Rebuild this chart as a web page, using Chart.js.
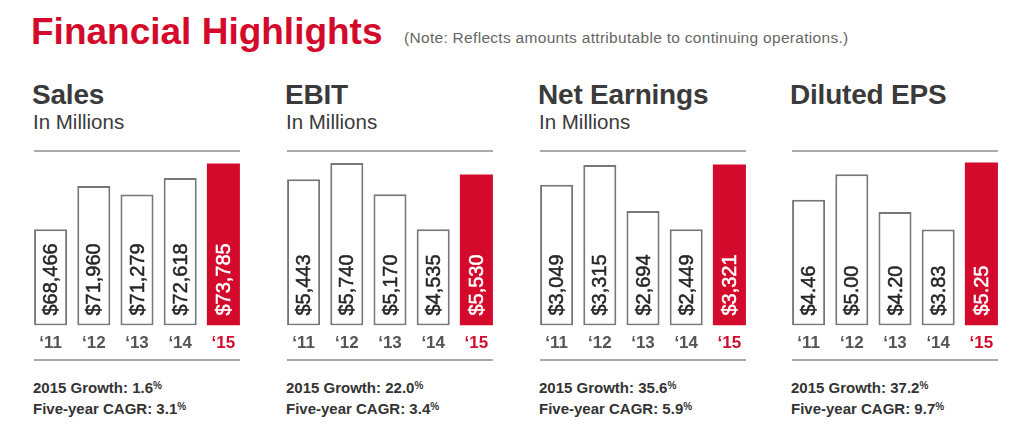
<!DOCTYPE html>
<html>
<head>
<meta charset="utf-8">
<script src="https://cdn.jsdelivr.net/npm/chart.js@4"></script>
<style>
  body { margin: 0; background: #fff; font-family: "Liberation Sans", Arial, sans-serif; }
  #page { position: relative; width: 1009px; height: 448px; overflow: hidden; }
  .abs { position: absolute; white-space: nowrap; line-height: 1; }
  .main { left: 31px; top: 13px; font-size: 37px; font-weight: bold; color: #d40a2d; }
  .note { left: 404px; top: 29.5px; font-size: 15.5px; letter-spacing: 0.3px; color: #666; }
  .ttl { top: 81.3px; font-size: 28px; font-weight: bold; color: #3a3a3a; letter-spacing: -0.2px; }
  .sub { top: 112px; font-size: 20.5px; color: #3a3a3a; }
  .rule { position: absolute; width: 206px; height: 0; border-top: 2px solid #aaa; }
  .grow { top: 376.3px; font-size: 15px; line-height: 19px; font-weight: bold; color: #333; }
  .grow span { font-size: 10px; vertical-align: 4px; }
  canvas { position: absolute; top: 155px; }
</style>
</head>
<body>
<div id="page">
  <div class="abs main">Financial Highlights</div>
  <div class="abs note">(Note: Reflects amounts attributable to continuing operations.)</div>
</div>
<script>
var years = ["\u201811", "\u201812", "\u201813", "\u201814", "\u201815"];
var sales = [68466, 71960, 71279, 72618, 73785];
var ebit = [5443, 5740, 5170, 4535, 5530];
var netEarnings = [3049, 3315, 2694, 2449, 3321];
var eps = [4.46, 5.00, 4.20, 3.83, 5.25];

var titles = ["Sales", "EBIT", "Net Earnings", "Diluted EPS"];
var subtitles = ["In Millions", "In Millions", "In Millions", ""];
var growth = ["1.6", "22.0", "35.6", "37.2"];
var cagr = ["3.1", "3.4", "5.9", "9.7"];

// axis ranges (bars do not start at zero in the original)
var axisMin = [60666, 2782, 1150, 1.79];
var axisMax = [74476, 5886, 3450, 5.41];

var RED = "#d40a2d";
var FONT = '"Liberation Sans", Arial, sans-serif';
var lefts = [34, 287, 540, 792];
var series = [sales, ebit, netEarnings, eps];

function money(v) { return "$" + v.toLocaleString("en-US"); }
function money2(v) { return "$" + v.toFixed(2); }
var formats = [money, money, money, money2];

var valueLabels = {
  id: "valueLabels",
  afterDatasetsDraw: function (chart, args, opts) {
    var ctx = chart.ctx;
    var vals = chart.data.datasets[0].data;
    var bottom = chart.chartArea.bottom;
    chart.getDatasetMeta(0).data.forEach(function (bar, i) {
      var col = i === 4 ? "#fff" : "#262626";
      var txt = opts.fmt(vals[i]);
      ctx.save();
      ctx.translate(bar.x, bottom - 10);
      ctx.rotate(-Math.PI / 2);
      ctx.font = "20px " + FONT;
      ctx.fillStyle = col;
      ctx.strokeStyle = col;
      ctx.lineWidth = 0.5;
      ctx.textAlign = "left";
      ctx.textBaseline = "middle";
      ctx.fillText(txt, 0, 1);
      ctx.strokeText(txt, 0, 1);
      ctx.restore();
    });
  }
};

var page = document.getElementById("page");

function addDiv(cls, left, html) {
  var d = document.createElement("div");
  d.className = cls;
  d.style.left = left + "px";
  d.innerHTML = html;
  page.appendChild(d);
  return d;
}

for (var p = 0; p < 4; p++) {
  var L = lefts[p];
  addDiv("abs ttl", L - 2, titles[p]);
  if (subtitles[p]) addDiv("abs sub", L - 1, subtitles[p]);
  var r1 = addDiv("rule", L, ""); r1.style.top = "150px";
  var r2 = addDiv("rule", L, ""); r2.style.top = "359px";
  addDiv("abs grow", L - 1, "2015 Growth: " + growth[p] + "<span>%</span><br>Five-year CAGR: " + cagr[p] + "<span>%</span>");

  var cv = document.createElement("canvas");
  cv.width = 216; cv.height = 207;
  cv.style.left = (L - 5) + "px";
  page.appendChild(cv);

  new Chart(cv, {
    type: "bar",
    data: {
      labels: years,
      datasets: [{
        data: series[p],
        base: axisMin[p],
        backgroundColor: years.map(function (y, i) { return i === 4 ? RED : "#fff"; }),
        borderColor: "#777",
        borderWidth: years.map(function (y, i) { return i === 4 ? 0 : 2; }),
        borderSkipped: false,
        categoryPercentage: 1,
        barPercentage: 0.765
      }]
    },
    options: {
      responsive: false,
      animation: false,
      events: [],
      layout: { padding: 0 },
      plugins: {
        legend: { display: false },
        tooltip: { enabled: false },
        valueLabels: { fmt: formats[p] }
      },
      scales: {
        x: {
          grid: { display: false, drawTicks: false },
          border: { display: false },
          ticks: {
            padding: 8,
            color: function (c) { return c.index === 4 ? RED : "#555"; },
            font: { size: 17, weight: "bold", family: FONT }
          }
        },
        y: { display: false, min: axisMin[p], max: axisMax[p] }
      }
    },
    plugins: [valueLabels]
  });
}
</script>
</body>
</html>
